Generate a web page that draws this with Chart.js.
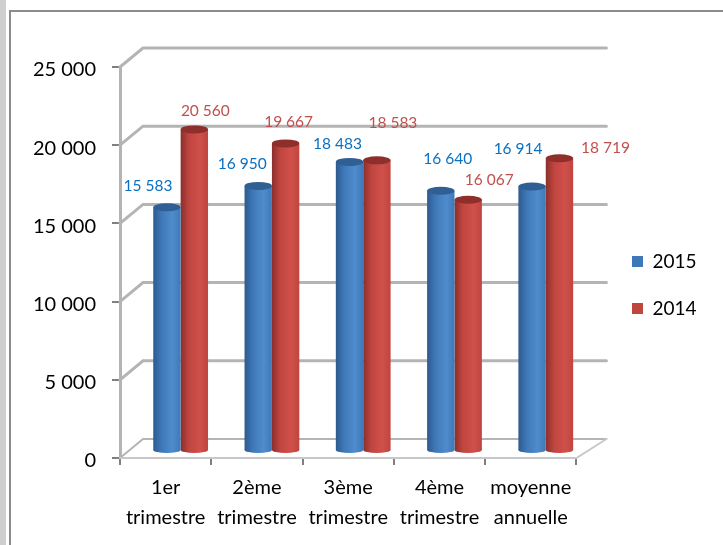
<!DOCTYPE html>
<html lang="fr">
<head>
    <meta charset="UTF-8">
    <title>Trimestres 2015 / 2014</title>
    <script src="https://cdn.jsdelivr.net/npm/chart.js"></script>
    <style>
        html, body { margin: 0; padding: 0; background: #fff; overflow: hidden; }
        #page { position: relative; width: 723px; height: 545px; }
        #band { position: absolute; left: 0; top: 0; width: 6px; height: 545px; background: #cfcfcf; }
        #frame { position: absolute; left: 9px; top: 10px; width: 714px; height: 535px; border-left: 2px solid #8c8c8c; border-top: 2px solid #8c8c8c; box-sizing: border-box; }
        canvas { position: absolute; left: 0; top: 0; }
    </style>
</head>
<body>
<div id="page">
    <div id="band"></div>
    <div id="frame"></div>
    <canvas id="chart" width="723" height="545"></canvas>
</div>
<script>
    const categories = [['1er', 'trimestre'], ['2ème', 'trimestre'], ['3ème', 'trimestre'], ['4ème', 'trimestre'], ['moyenne', 'annuelle']];
    const values2015 = [15583, 16950, 18483, 16640, 16914];
    const values2014 = [20560, 19667, 18583, 16067, 18719];
    const yTicks = [0, 5000, 10000, 15000, 20000, 25000];

    // label placement relative to the top of each bar
    const labelShift2015 = [[-19, -21], [-16, -22], [-12, -18], [7, -32], [-14, -37]];
    const labelShift2014 = [[11, -18], [3, -21], [16, -37], [21, -20], [46, -10]];

    const FONT = 'Lato, "Open Sans", sans-serif';
    const depthX = 23, depthY = 19;   // back wall offset
    const barX = 15, barY = -7;       // bars stand mid way on the floor

    const spaced = v => String(v).replace(/\B(?=(\d{3})+$)/g, ' ');

    function barGradient(colors, flat) {
        return ctx => {
            const chart = ctx.chart;
            if (ctx.dataIndex === undefined || !chart.chartArea) return flat;
            const x = chart.scales.x;
            const w = (x.width / categories.length) * 0.3;
            const left = x.getPixelForValue(ctx.dataIndex) + (ctx.datasetIndex === 0 ? -w : 0);
            const g = chart.ctx.createLinearGradient(left, 0, left + w, 0);
            g.addColorStop(0, colors[0]);
            g.addColorStop(0.3, colors[1]);
            g.addColorStop(0.7, colors[2]);
            g.addColorStop(1, colors[1]);
            return g;
        };
    }

    // grey back wall, floor and side lines, from the y scale
    const wall = {
        id: 'wall',
        afterLayout(chart) {
            const lg = chart.legend;
            lg.left = 604;
            lg.right = 723;
            lg.top -= 21;
            lg.bottom -= 21;
        },
        beforeDatasetsDraw(chart) {
            const c = chart.ctx, a = chart.chartArea, y = chart.scales.y;
            c.save();
            c.lineCap = 'round';
            yTicks.forEach(t => {
                const py = y.getPixelForValue(t);
                c.strokeStyle = '#b4b4b4';
                c.lineWidth = t === 0 ? 2 : 3;
                c.beginPath();
                c.moveTo(a.left, py);
                c.lineTo(a.left + depthX, py - depthY);
                c.lineTo(a.right + depthX + 7, py - depthY);
                c.stroke();
            });
            // floor
            const py = y.getPixelForValue(0);
            c.strokeStyle = '#c8c8c8';
            c.lineWidth = 2;
            c.beginPath();
            c.moveTo(a.left, py);
            c.lineTo(a.right, py);
            c.lineTo(a.right + depthX + 7, py - depthY);
            c.stroke();
            c.restore();
            c.save();
            c.translate(barX, barY);
        },
        afterDatasetDraw(chart, args) {
            const c = chart.ctx;
            const base = chart.scales.y.getPixelForValue(0);
            const dark = args.index === 0 ? '#2f5f93' : '#8f2f2c';
            args.meta.data.forEach(el => {
                const r = el.width / 2;
                c.fillStyle = el.options.backgroundColor;
                c.beginPath();
                c.ellipse(el.x, base - 1, r, 3, 0, 0, Math.PI * 2);
                c.fill();
                c.fillStyle = dark;
                c.beginPath();
                c.ellipse(el.x, el.y, r, 4, 0, 0, Math.PI * 2);
                c.fill();
            });
        },
        afterDatasetsDraw(chart) {
            const c = chart.ctx;
            c.textAlign = 'center';
            c.textBaseline = 'middle';
            c.font = '15.5px ' + FONT;
            chart.data.datasets.forEach((ds, i) => {
                const shift = i === 0 ? labelShift2015 : labelShift2014;
                c.fillStyle = i === 0 ? '#0a70c2' : '#c0504d';
                chart.getDatasetMeta(i).data.forEach((el, j) => {
                    c.fillText(spaced(ds.data[j]), el.x + shift[j][0], el.y + shift[j][1]);
                });
            });
            c.restore();
        }
    };

    new Chart(document.getElementById('chart'), {
        type: 'bar',
        data: {
            labels: categories,
            datasets: [
                { label: '2015', data: values2015, backgroundColor: barGradient(['#2c5a8e', '#3f78b8', '#4f8ccc'], '#4f81bd') },
                { label: '2014', data: values2014, backgroundColor: barGradient(['#8a2f2c', '#c0453f', '#d0504c'], '#c0504d') }
            ]
        },
        options: {
            responsive: false,
            animation: false,
            events: [],
            layout: { padding: { top: 67, right: 44 } },
            datasets: { bar: { categoryPercentage: 0.6, barPercentage: 1 } },
            plugins: {
                tooltip: { enabled: false },
                title: { display: false },
                legend: {
                    position: 'right',
                    labels: {
                        boxWidth: 11,
                        boxHeight: 11,
                        padding: 28,
                        color: '#000',
                        font: { family: FONT, size: 19 }
                    }
                }
            },
            scales: {
                x: {
                    afterFit(s) { s.height = 87; },
                    grid: { drawOnChartArea: false, color: '#7f7f7f', lineWidth: 2, tickLength: 7, offset: true },
                    border: { color: '#c8c8c8', width: 2 },
                    ticks: { color: '#000', padding: 8, maxRotation: 0, autoSkip: false, font: { family: FONT, size: 20, lineHeight: 1.5 } }
                },
                y: {
                    min: 0,
                    max: 25000,
                    afterFit(s) { s.width = 120; },
                    afterBuildTicks(s) { s.ticks = yTicks.map(v => ({ value: v })); },
                    grid: { drawOnChartArea: false, color: '#7f7f7f', lineWidth: 2, tickLength: 8 },
                    border: { color: '#b4b4b4', width: 3 },
                    // empty first line pushes the number a little below its tick
                    ticks: { color: '#000', padding: 16, callback: v => ['', spaced(v)], font: { family: FONT, size: 20, lineHeight: 0.3 } }
                }
            }
        },
        plugins: [wall]
    });
</script>
</body>
</html>
